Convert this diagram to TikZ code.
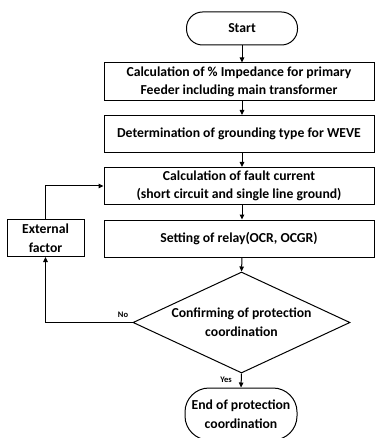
\documentclass[tikz,border=0pt]{standalone}
\usepackage{fontspec}
\setmainfont{Carlito}
\usetikzlibrary{shapes.geometric,arrows.meta}

\newlength{\du}
\setlength{\du}{1pt}

\tikzset{
  procbox/.style={draw, rectangle, line width=1\du, minimum width=270\du, minimum height=37\du,
    inner sep=0pt, align=center, font=\fontsize{13.7}{18.5}\selectfont\bfseries},
  termbox/.style={draw, rectangle, line width=1\du, inner sep=0pt, align=center,
    font=\fontsize{13.7}{19}\selectfont\bfseries},
  decision/.style={draw, diamond, line width=1\du, aspect=2.15, inner sep=0pt,
    minimum width=217\du, minimum height=101\du, align=center,
    font=\fontsize{13.7}{19}\selectfont\bfseries},
  flowline/.style={line width=1\du, -{Triangle[length=5pt,width=4.5pt]}},
  flowlabel/.style={inner sep=0pt, font=\fontsize{8.5}{9}\selectfont\bfseries}
}

\begin{document}
\begin{tikzpicture}
\pgftransformxscale{1.000000}
\pgftransformyscale{-1.000000}
\useasboundingbox (0\du,0\du) rectangle (375\du,438\du);
\definecolor{dialinecolor}{rgb}{0.000000, 0.000000, 0.000000}
\pgfsetstrokecolor{dialinecolor}
% terminals and steps
\node[termbox, minimum width=111\du, minimum height=33\du, rounded corners=16\du] (start) at (242\du,28.5\du){Start};
\node[procbox, minimum height=38\du] (impedance) at (239\du,82\du){Calculation of \% Impedance for primary\\Feeder including main transformer};
\node[procbox] (grounding) at (239\du,134\du){Determination of grounding type for WEVE};
\node[procbox] (fault) at (239\du,186\du){Calculation of fault current\\(short circuit and single line ground)};
\node[procbox] (relay) at (239\du,238.5\du){Setting of relay(OCR, OCGR)};
\node[decision] (confirm) at (241.5\du,322.5\du){Confirming of protection\\coordination};
\node[termbox, minimum width=112\du, minimum height=52\du, rounded corners=24\du] (finish) at (241\du,414\du){End of protection\\coordination};
\node[procbox, minimum width=77\du] (external) at (45.5\du,238\du){External\\factor};
% labels
\node[flowlabel] (nolabel) at (123\du,315\du){No};
\node[flowlabel] (yeslabel) at (226\du,380\du){Yes};
% connectors
\draw[flowline] (start.south) -- (start.south |- impedance.north);
\draw[flowline] (start.south |- impedance.south) -- (start.south |- grounding.north);
\draw[flowline] (start.south |- grounding.south) -- (start.south |- fault.north);
\draw[flowline] (start.south |- fault.south) -- (start.south |- relay.north);
\draw[flowline] (start.south |- relay.south) -- (confirm.north);
\draw[flowline] (confirm.south) -- (finish.north);
\draw[flowline] (confirm.west) -| (external.south);
\draw[flowline] (external.north) |- (fault.west);
\end{tikzpicture}
\end{document}
